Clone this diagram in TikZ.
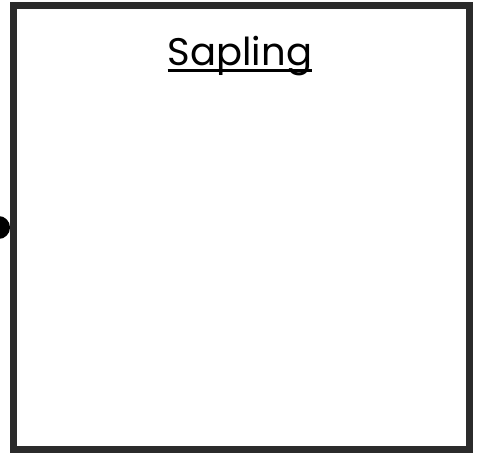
\documentclass[tikz,border=0pt]{standalone}
\usepackage{fontspec}
\setmainfont{Poppins}
\usepackage{tikz}
\usetikzlibrary{arrows.meta,positioning}
\definecolor{FrameGray}{RGB}{43,43,43}

\begin{document}
\begin{tikzpicture}[x=1pt, y=1pt,
            frame/.style={draw=FrameGray, line width=7pt, fill=white,
                          minimum width=456pt, minimum height=444pt, inner sep=0pt},
            title/.style={font=\fontsize{38.5}{44}\selectfont, inner sep=0pt, anchor=base},
            arr/.style={-{Circle[length=23pt]}, line width=2pt, black}
        ]
            \useasboundingbox (0,0) rectangle (479,455);

            \node[frame] (sapling) at (241.5,227.5) {};
            \node[title] (name) at (240,389) {Sapling};
            \draw[line width=2.6pt] ([yshift=-4.5pt]name.base west) -- ([yshift=-4.5pt]name.base east);

            \coordinate (feed) at (-40,227.5);
            \draw[arr] (feed) -- (sapling.west);

        \end{tikzpicture}
\end{document}
